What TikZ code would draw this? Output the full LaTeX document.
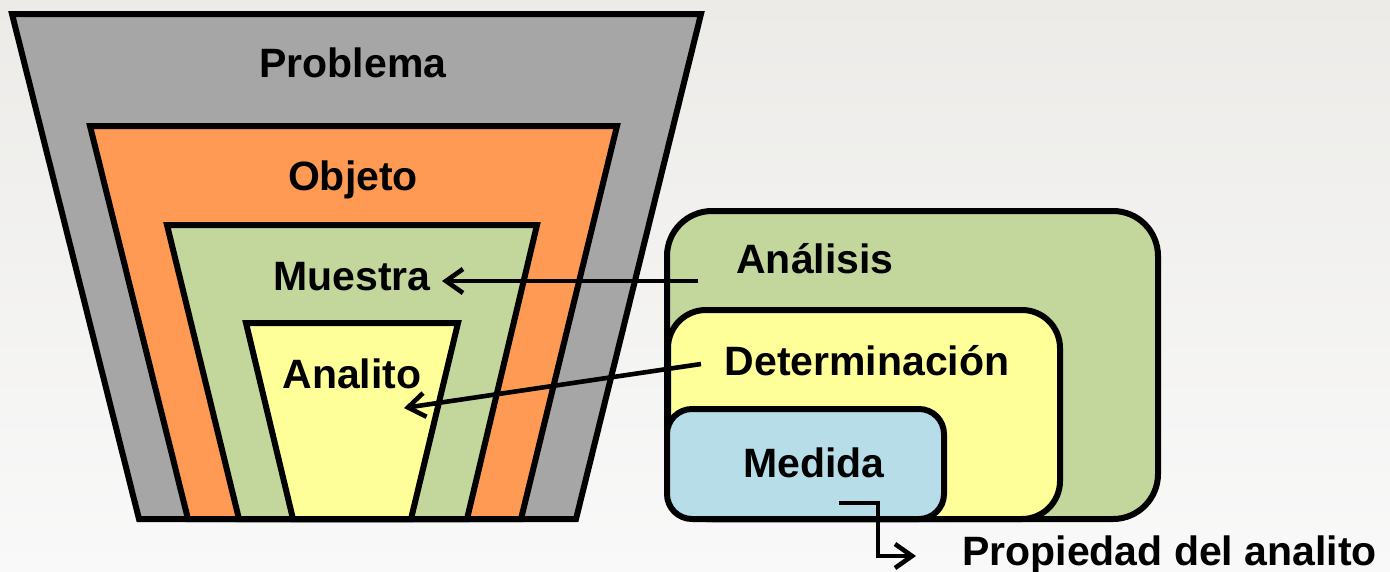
\documentclass[tikz,border=0pt]{standalone}
\usepackage{fontspec}
\setmainfont{Liberation Sans}
\usetikzlibrary{arrows.meta}

\definecolor{bgtop}{HTML}{ECEBE8}
\definecolor{bgbot}{HTML}{F9F9F9}
\definecolor{probgray}{HTML}{A6A6A6}
\definecolor{objorange}{HTML}{FF9A55}
\definecolor{levgreen}{HTML}{C3D69B}
\definecolor{levyellow}{HTML}{FFFF99}
\definecolor{levblue}{HTML}{B7DEE8}

\tikzset{
  layer/.style={draw=black, line width=6pt, line join=miter},
  boxlayer/.style={draw=black, line width=6pt},
  label/.style={font=\fontsize{41}{48}\selectfont\bfseries, inner sep=0pt, anchor=base},
  pointer/.style={draw=black, line width=4.6pt, line join=miter,
    -{Straight Barb[length=17pt, width=24pt]}},
}

\begin{document}
\begin{tikzpicture}[x=1pt, y=-1pt]
  % page and background
  \useasboundingbox (0,0) rectangle (1390,571);
  \shade[top color=bgtop, bottom color=bgbot] (0,0) rectangle (1390,571);

  % nested trapezoids, outermost first
  \path[layer, fill=probgray]  (12,14) -- (701,14) -- (576,519) -- (139,519) -- cycle;
  \path[layer, fill=objorange] (90,126) -- (617,126) -- (521,519) -- (188,519) -- cycle;
  \path[layer, fill=levgreen]  (167,225) -- (537,225) -- (467,519) -- (239,519) -- cycle;
  \path[layer, fill=levyellow] (246,323) -- (458,323) -- (411,519) -- (293,519) -- cycle;

  % nested rounded boxes
  \path[boxlayer, fill=levgreen, rounded corners=45pt]  (667,211) rectangle (1158,519);
  \path[boxlayer, fill=levyellow, rounded corners=38pt] (668,310) rectangle (1060,519);
  \path[boxlayer, fill=levblue, rounded corners=25pt]   (667,409) rectangle (944,519);

  % labels
  \node[label] (problema) at (353,77)  {Problema};
  \node[label] (objeto)   at (353,190) {Objeto};
  \node[label] (muestra)  at (352,290) {Muestra};
  \node[label] (analito)  at (352,388) {Analito};
  \node[label] (analisis) at (815,273) {Análisis};
  \node[label] (determ)   at (867,375) {Determinación};
  \node[label] (medida)   at (814,477) {Medida};
  \node[label, anchor=base west] (propiedad) at (962,565) {Propiedad del analito};

  % connector end points
  \coordinate (analisisFrom) at (698,281);
  \coordinate (muestraTo)    at (442,281);
  \coordinate (determFrom)   at (701,364);
  \coordinate (analitoTo)    at (404,408);
  \coordinate (medidaFrom)   at (839,503);
  \coordinate (propiedadTo)  at (916,556);

  % connectors
  \draw[pointer] (analisisFrom) -- (muestraTo);
  \draw[pointer] (determFrom) -- (analitoTo);
  \draw[pointer] (medidaFrom) -- (878,503) |- (propiedadTo);
\end{tikzpicture}
\end{document}
